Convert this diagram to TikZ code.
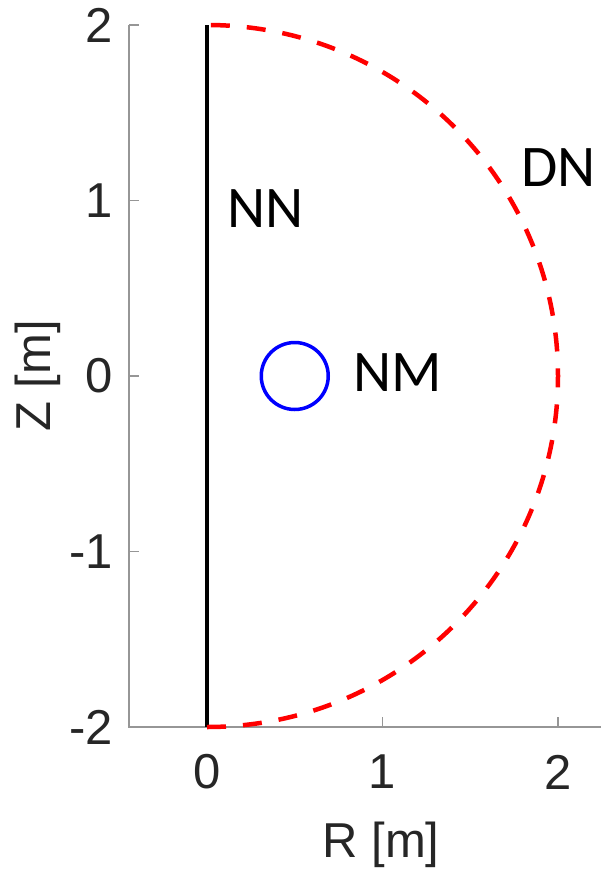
\documentclass[tikz,border=0pt]{standalone}
\usepackage{fontspec}
\setmainfont{Liberation Sans}
\newfontfamily\calib{Carlito}
\definecolor{axisgray}{RGB}{150,150,150}
\definecolor{ticktext}{RGB}{38,38,38}
\definecolor{dnred}{RGB}{255,0,0}
\definecolor{nmblue}{RGB}{0,0,255}
\begin{document}
\begin{tikzpicture}[x=1pt,y=-1pt,
  axisline/.style={draw=axisgray,line width=1.3pt},
  ticklabel/.style={inner sep=0pt,text=ticktext,font=\fontsize{49}{49}\selectfont},
  axislabel/.style={inner sep=0pt,text=ticktext,font=\fontsize{49}{49}\selectfont},
  curvelabel/.style={inner sep=0pt,text=black,font=\calib\fontsize{59}{59}\selectfont},
  nnline/.style={draw=black,line width=4pt},
  dnline/.style={draw=dnred,line width=4.5pt,dash pattern=on 19pt off 17pt},
  nmcircle/.style={circle,draw=nmblue,line width=3.5pt,minimum size=67pt,inner sep=0pt}]
\useasboundingbox (0,0) rectangle (601,870);
% axes
\coordinate (ytop) at (129,25);
\coordinate (origin) at (129,727);
\coordinate (xright) at (601,727);
\draw[axisline] (ytop) -- (origin) -- (xright);
% y ticks
\foreach \v/\yy in {2/25,1/200.5,0/376,-1/551.5,-2/727}{
  \draw[axisline] (129,\yy) -- (139,\yy);
  \node[ticklabel,anchor=east] (yl\v) at (113,\yy) {\v};
}
% x ticks
\foreach \v/\xx in {0/207,1/382.5,2/558}{
  \draw[axisline] (\xx,727) -- (\xx,717);
  \node[ticklabel] (xl\v) at (\xx,772) {\v};
}
\node[axislabel] (xlab) at (381,845) {R [m]};
\node[axislabel,rotate=90] (ylab) at (38,376) {Z [m]};
% data
\begin{scope}[shift={(207,376)},x=175.5pt,y=175.5pt]
  \coordinate (nntop) at (0,2);
  \coordinate (nnbot) at (0,-2);
  \draw[nnline] (nntop) -- (nnbot);
  \draw[dnline] (nnbot) arc[start angle=-90,end angle=90,radius=2];
  \node[nmcircle] (nm) at (0.5,0) {};
\end{scope}
\node[curvelabel,anchor=west] (nnlab) at (227,209) {NN};
\node[curvelabel,anchor=west] (nmlab) at (353,373) {NM};
\node[curvelabel,anchor=west] (dnlab) at (521,168) {DN};
\end{tikzpicture}
\end{document}
